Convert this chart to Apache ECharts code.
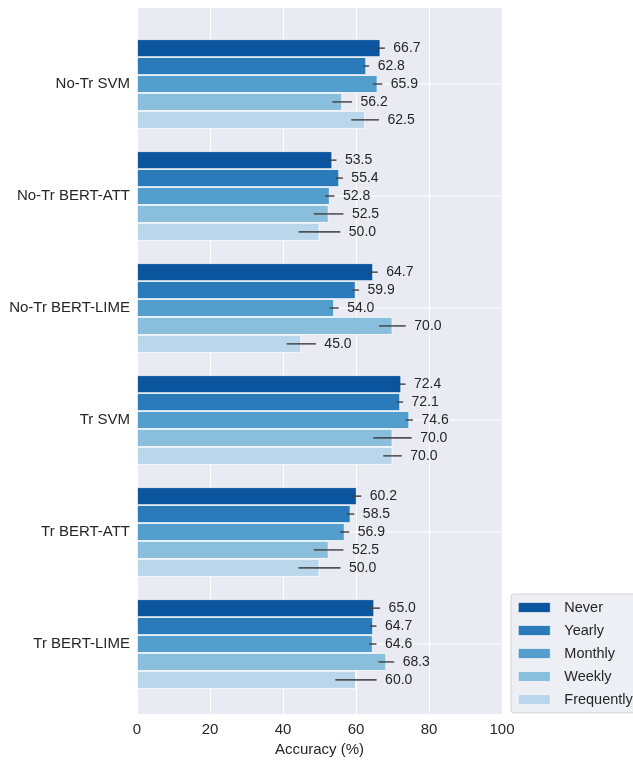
<!DOCTYPE html>
<html>
<head>
<meta charset="utf-8">
<script src="https://cdn.jsdelivr.net/npm/echarts@6/dist/echarts.min.js"></script>
<style>
  html, body { margin: 0; padding: 0; background: #fff; }
  #chart { width: 633px; height: 762px; }
</style>
</head>
<body>
<div id="chart"></div>
<script>
// Models compared, top to bottom
const categories = ['No-Tr SVM', 'No-Tr BERT-ATT', 'No-Tr BERT-LIME', 'Tr SVM', 'Tr BERT-ATT', 'Tr BERT-LIME'];

// Usage-frequency groups (legend order)
const groups = ['Never', 'Yearly', 'Monthly', 'Weekly', 'Frequently'];

// Mean accuracy (%) per model for each group
const never      = [66.7, 53.5, 64.7, 72.4, 60.2, 65.0];
const yearly     = [62.8, 55.4, 59.9, 72.1, 58.5, 64.7];
const monthly    = [65.9, 52.8, 54.0, 74.6, 56.9, 64.6];
const weekly     = [56.2, 52.5, 70.0, 70.0, 52.5, 68.3];
const frequently = [62.5, 50.0, 45.0, 70.0, 50.0, 60.0];

// Half-width of the error bars (accuracy points)
const neverErr      = [1.2, 1.15, 1.25, 1.15, 1.25, 1.6];
const yearlyErr     = [0.8, 1.0, 0.9, 0.8, 1.05, 0.9];
const monthlyErr    = [1.3, 1.3, 1.25, 1.0, 1.25, 1.0];
const weeklyErr     = [2.7, 4.05, 3.65, 5.25, 4.05, 2.15];
const frequentlyErr = [3.8, 5.7, 4.0, 2.55, 5.75, 5.65];

// X axis ticks
const xTicks = [0, 20, 40, 60, 80, 100];

const values = [never, yearly, monthly, weekly, frequently];
const errors = [neverErr, yearlyErr, monthlyErr, weeklyErr, frequentlyErr];
const colors = ['#0b559f', '#2b7bba', '#539ecd', '#89bedc', '#bad6eb'];

const FONT = '"Liberation Sans", Arial, sans-serif';
const TEXT = '#262626';
const BAR_SHARE = 0.8; // fraction of a category band covered by its bars

// Error-bar rows: [low, high, categoryIndex, groupIndex, value]
const errRows = [];
values.forEach((vals, g) => {
  vals.forEach((v, c) => {
    errRows.push([v - errors[g][c], v + errors[g][c], c, g, v]);
  });
});

const chart = echarts.init(document.getElementById('chart'), null, { renderer: 'canvas' });

const barSeries = groups.map((name, g) => ({
  name: name,
  type: 'bar',
  xAxisIndex: 1,
  yAxisIndex: 1,
  data: values[g],
  barGap: '0%',
  barCategoryGap: '20%',
  itemStyle: { color: colors[g], borderColor: '#ffffff', borderWidth: 0.8 },
  emphasis: { disabled: true },
  silent: true,
  z: 2
}));

function bandOffset(api, g) {
  const band = api.size([0, 1])[1];
  const span = band * BAR_SHARE;
  return -span / 2 + span * (g + 0.5) / groups.length;
}

const option = {
  animation: false,
  backgroundColor: '#ffffff',
  textStyle: { fontFamily: FONT },
  grid: [
    { left: 137, right: 131, top: 8, bottom: 42, show: true, backgroundColor: '#EAEAF2', borderWidth: 0, z: 0 },
    { left: 137, right: 131, top: 28, bottom: 62, show: false }
  ],
  xAxis: [
    {
      gridIndex: 0, type: 'value', min: xTicks[0], max: xTicks[xTicks.length - 1], interval: 20,
      name: 'Accuracy (%)', nameLocation: 'middle', nameGap: 26,
      nameTextStyle: { fontFamily: FONT, fontSize: 15, color: TEXT },
      axisLine: { show: false }, axisTick: { show: false },
      axisLabel: { fontFamily: FONT, fontSize: 15, color: TEXT, margin: 8 },
      splitLine: { show: true, lineStyle: { color: '#ffffff', width: 1 } }
    },
    {
      gridIndex: 1, type: 'value', min: xTicks[0], max: xTicks[xTicks.length - 1],
      show: false, splitLine: { show: false }
    }
  ],
  yAxis: [
    { gridIndex: 0, type: 'value', show: false, splitLine: { show: false } },
    {
      gridIndex: 1, type: 'category', data: categories, inverse: true,
      axisLine: { show: false }, axisTick: { show: false },
      axisLabel: { fontFamily: FONT, fontSize: 15, color: TEXT, margin: 7 },
      splitLine: { show: false }
    }
  ],
  legend: {
    data: groups,
    orient: 'vertical',
    left: 511, top: 594,
    icon: 'rect',
    itemWidth: 32, itemHeight: 10,
    itemGap: 8,
    padding: [6, 12, 6, 7],
    backgroundColor: 'rgba(234,234,242,0.8)',
    borderColor: 'rgba(204,204,204,0.8)',
    borderWidth: 1,
    borderRadius: 3,
    selectedMode: false,
    itemStyle: { borderWidth: 0.6, borderColor: '#ffffff' },
    textStyle: { fontFamily: FONT, fontSize: 14.5, color: TEXT, lineHeight: 14, padding: [0, 0, 0, 9] }
  },
  series: [
    // White horizontal guide lines through each model's row
    {
      type: 'custom',
      xAxisIndex: 1, yAxisIndex: 1,
      silent: true, z: 1,
      data: categories.map((_, i) => [i]),
      encode: { y: 0 },
      renderItem: function (params, api) {
        const y = api.coord([0, api.value(0)])[1];
        const x0 = api.coord([xTicks[0], api.value(0)])[0];
        const x1 = api.coord([xTicks[xTicks.length - 1], api.value(0)])[0];
        return {
          type: 'line',
          shape: { x1: x0, y1: y, x2: x1, y2: y },
          style: { stroke: '#ffffff', lineWidth: 1 }
        };
      }
    },
    ...barSeries,
    // Error bars with value labels
    {
      type: 'custom',
      xAxisIndex: 1, yAxisIndex: 1,
      silent: true, z: 5,
      data: errRows,
      encode: { x: [0, 1], y: 2 },
      renderItem: function (params, api) {
        const c = api.value(2);
        const g = api.value(3);
        const lo = api.coord([api.value(0), c]);
        const hi = api.coord([api.value(1), c]);
        const y = lo[1] + bandOffset(api, g);
        return {
          type: 'group',
          children: [
            {
              type: 'line',
              shape: { x1: lo[0], y1: y, x2: hi[0], y2: y },
              style: { stroke: 'rgba(66,66,66,0.9)', lineWidth: 1.6 }
            },
            {
              type: 'text',
              x: hi[0] + 8.5, y: y,
              style: {
                text: api.value(4).toFixed(1),
                fontFamily: FONT, fontSize: 14, fill: TEXT,
                verticalAlign: 'middle', align: 'left'
              }
            }
          ]
        };
      }
    }
  ]
};

chart.setOption(option);
</script>
</body>
</html>
